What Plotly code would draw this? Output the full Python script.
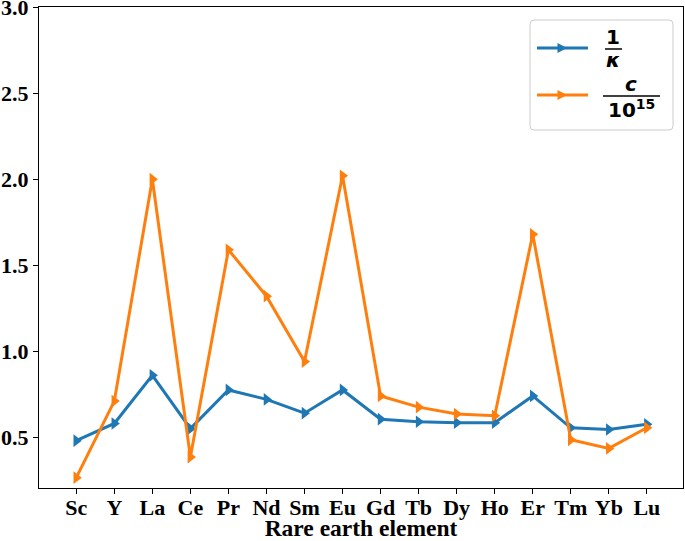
import plotly.graph_objects as go

elements = ["Sc", "Y", "La", "Ce", "Pr", "Nd", "Sm", "Eu", "Gd", "Tb", "Dy", "Ho", "Er", "Tm", "Yb", "Lu"]
inv_kappa = [0.48, 0.58, 0.86, 0.55, 0.775, 0.72, 0.64, 0.775, 0.605, 0.59, 0.585, 0.585, 0.74, 0.555, 0.545, 0.575]
c_scaled = [0.265, 0.71, 2.0, 0.385, 1.59, 1.32, 0.94, 2.02, 0.74, 0.675, 0.635, 0.625, 1.68, 0.485, 0.435, 0.555]
y_ticks = [0.5, 1.0, 1.5, 2.0, 2.5, 3.0]

BLUE = "#1f77b4"
ORANGE = "#ff7f0e"
W, H = 685, 541
L, R, T, B = 39, 683, 7, 488

def px(x):
    return (x - L) / (R - L)

def py(y):
    return (B - y) / (B - T)

xs = list(range(len(elements)))
fig = go.Figure()
for name, vals, col in [("1/κ", inv_kappa, BLUE), ("c/10^15", c_scaled, ORANGE)]:
    fig.add_trace(go.Scatter(
        x=xs, y=vals, mode="lines+markers", name=name, showlegend=False,
        line=dict(color=col, width=3),
        marker=dict(symbol="triangle-right", size=11, color=col),
        cliponaxis=False,
    ))

shapes = []
annotations = []
# legend box (rounded)
x0, x1, y0, y1, r = 530, 673, 20, 130, 4
path = (f"M {px(x0+r)},{py(y0)} L {px(x1-r)},{py(y0)} Q {px(x1)},{py(y0)} {px(x1)},{py(y0+r)} "
        f"L {px(x1)},{py(y1-r)} Q {px(x1)},{py(y1)} {px(x1-r)},{py(y1)} "
        f"L {px(x0+r)},{py(y1)} Q {px(x0)},{py(y1)} {px(x0)},{py(y1-r)} "
        f"L {px(x0)},{py(y0+r)} Q {px(x0)},{py(y0)} {px(x0+r)},{py(y0)} Z")
shapes.append(dict(type="path", xref="paper", yref="paper", path=path,
                   line=dict(color="#cccccc", width=1), fillcolor="rgba(255,255,255,0.8)"))
for col, yy in [(BLUE, 48), (ORANGE, 95)]:
    shapes.append(dict(type="line", xref="paper", yref="paper", x0=px(537), x1=px(588),
                       y0=py(yy), y1=py(yy), line=dict(color=col, width=3)))
    tri = f"M {px(557.5)},{py(yy-5)} L {px(557.5)},{py(yy+5)} L {px(567)},{py(yy)} Z"
    shapes.append(dict(type="path", xref="paper", yref="paper", path=tri,
                       line=dict(color=col, width=0), fillcolor=col))
# fraction bars
shapes.append(dict(type="line", xref="paper", yref="paper", x0=px(605), x1=px(622),
                   y0=py(49), y1=py(49), line=dict(color="black", width=1.5)))
shapes.append(dict(type="line", xref="paper", yref="paper", x0=px(603), x1=px(660),
                   y0=py(96), y1=py(96), line=dict(color="black", width=1.5)))
lf = dict(family="DejaVu Sans", size=20, color="black")
def ann(text, x, y):
    annotations.append(dict(text=text, x=px(x), y=py(y), xref="paper", yref="paper",
                            showarrow=False, xanchor="center", yanchor="middle", font=lf))
ann("<b>1</b>", 613, 37)
ann("<b><i>κ</i></b>", 613, 60)
ann("<b><i>c</i></b>", 631, 84)
ann("<b>10<sup>15</sup></b>", 631, 109)

tickfont = dict(family="Liberation Serif", size=22, color="black")
fig.update_layout(
    width=W, height=H,
    margin=dict(l=L, r=W - R, t=T, b=H - B, pad=0, autoexpand=False),
    plot_bgcolor="white", paper_bgcolor="white",
    font=dict(family="Liberation Serif", size=22, color="black"),
    shapes=shapes, annotations=annotations,
    xaxis=dict(
        range=[-0.98, 15.95], tickmode="array", tickvals=xs,
        ticktext=[f"<b>{e}</b>" for e in elements], tickfont=tickfont,
        showgrid=False, zeroline=False, showline=True, mirror=True,
        linecolor="black", linewidth=1.2, ticks="outside", ticklen=5,
        tickcolor="black", tickwidth=1.2, automargin=False, ticklabelstandoff=-6,
        ticklabeloverflow="allow",
        title=dict(text="<b>Rare earth element</b>", standoff=4,
                   font=dict(family="Liberation Serif", size=23.5)),
    ),
    yaxis=dict(
        range=[0.205, 3.001], tickmode="array", tickvals=y_ticks,
        ticktext=[f"<b>{v:.1f}</b>" for v in y_ticks], tickfont=tickfont,
        showgrid=False, zeroline=False, showline=True, mirror=True,
        linecolor="black", linewidth=1.2, ticks="outside", ticklen=5,
        tickcolor="black", tickwidth=1.2, automargin=False,
        ticklabeloverflow="allow",
    ),
)
fig.write_html("out.html", config={"displayModeBar": False},
               post_script="document.body.style.margin='0';document.body.style.overflow='hidden';")
